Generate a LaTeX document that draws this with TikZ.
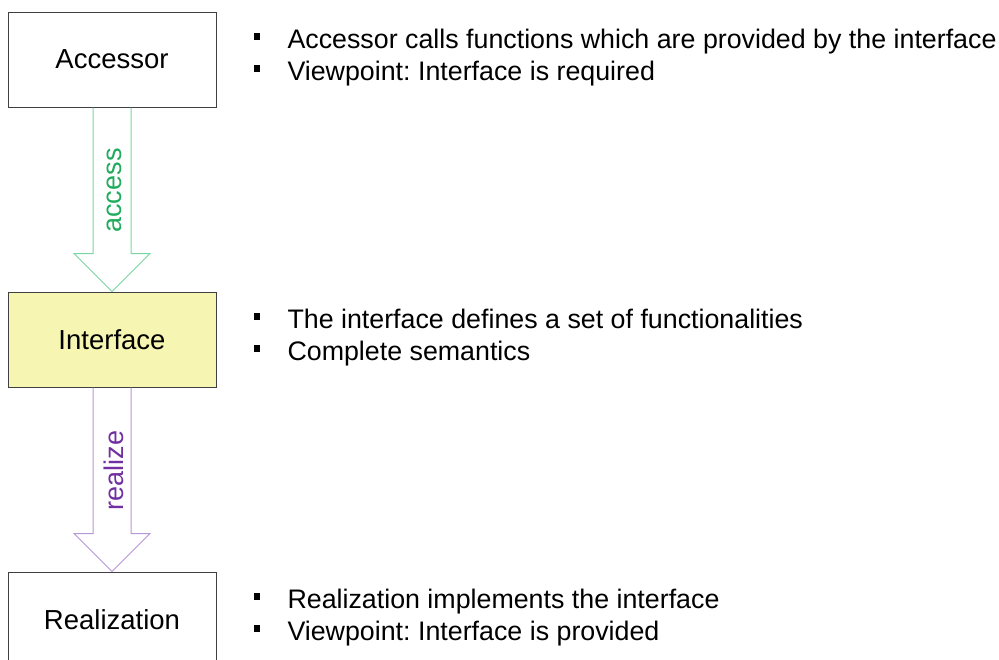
\documentclass[tikz,border=0pt]{standalone}
\usepackage{fontspec}
\setmainfont{Liberation Sans}
\usepackage{tikz}
\usetikzlibrary{positioning, calc}

\definecolor{boxline}{RGB}{64,64,64}
\definecolor{ifyellow}{RGB}{246,246,178}
\definecolor{accline}{RGB}{120,214,162}
\definecolor{acctext}{RGB}{32,172,92}
\definecolor{realline}{RGB}{182,152,216}
\definecolor{realtext}{RGB}{112,48,160}

\frenchspacing
\newcommand{\bul}{\makebox[34pt][l]{\rule[8.5pt]{6.5pt}{6.5pt}}}
\newcommand{\blockarrow}[2]{
	($(#1.south)+(-19,0)$) -- ($(#2.north)+(-19,-38)$) -- ($(#2.north)+(-38,-38)$) -- (#2.north)
	-- ($(#2.north)+(38,-38)$) -- ($(#2.north)+(19,-38)$) -- ($(#1.south)+(19,0)$)
}

\begin{document}
\begin{tikzpicture}[x=1pt, y=-1pt, line width=1pt]

	\tikzset{
		block/.style={
				rectangle, draw=boxline, fill=white, minimum width=208pt, minimum height=95pt, inner sep=0pt,
				font=\fontsize{27.5}{33}\selectfont
			},
		item/.style={
				anchor=base west, inner sep=0pt, font=\fontsize{26.8}{32}\selectfont
			},
		lbl/.style={
				rotate=90, inner sep=0pt, font=\fontsize{27}{32}\selectfont
			},
	}
	\useasboundingbox (0,0) rectangle (999,659);

	\node[block](acc) at (112,59.5){Accessor};
	\node[block, fill=ifyellow](int) at (112,339.5){Interface};
	\node[block](rea) at (112,619.5){Realization};

	\draw[accline] \blockarrow{acc}{int};
	\draw[realline] \blockarrow{int}{rea};
	\node[lbl, text=acctext](l1) at ($(acc.south)+(2,83)$){access};
	\node[lbl, text=realtext](l2) at ($(int.south)+(2,83)$){realize};

	\node[item](a1) at (253,48){\bul Accessor calls functions which are provided by the interface};
	\node[item](a2) at (253,80){\bul Viewpoint: Interface is required};
	\node[item](i1) at (253,328){\bul The interface defines a set of functionalities};
	\node[item](i2) at (253,360){\bul Complete semantics};
	\node[item](r1) at (253,608){\bul Realization implements the interface};
	\node[item](r2) at (253,640){\bul Viewpoint: Interface is provided};

\end{tikzpicture}
\end{document}
